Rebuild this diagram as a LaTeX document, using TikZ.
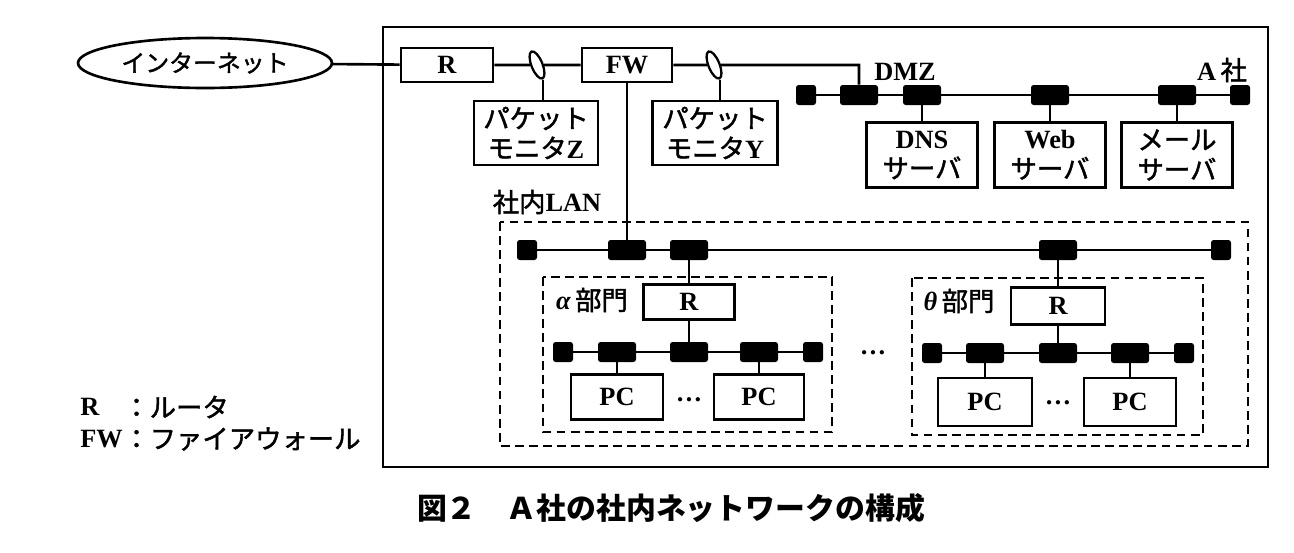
\documentclass[tikz,border=0pt]{standalone}
\usepackage{fontspec}
\setmainfont{Liberation Serif}
\newfontfamily\jpfont{Noto Sans CJK JP}
\newfontfamily\jpheavy{Noto Sans CJK JP}[FakeBold=1.6]
\newcommand\jtext[1]{{\jpheavy\mdseries #1}}
\usetikzlibrary{shapes.geometric}

\tikzset{
	box/.style={draw, line width=1.5pt, fill=white, align=center, inner sep=1pt,
		font=\fontsize{15}{17}\selectfont\bfseries},
	tap/.style={draw, ellipse, line width=1.3pt, fill=white, minimum width=0.22cm,
		minimum height=0.58cm, inner sep=0pt, rotate=22},
	blk/.style={fill=black, rounded corners=1.5pt, minimum width=0.76cm,
		minimum height=0.4cm, inner sep=0pt},
	term/.style={fill=black, rounded corners=1.5pt, minimum size=0.4cm, inner sep=0pt},
	grp/.style={draw, dash pattern=on 5pt off 3pt, line width=1.4pt},
	lbl/.style={inner sep=0pt, font=\fontsize{15}{17}\selectfont\bfseries},
	wire/.style={line width=1.5pt},
}

\begin{document}
\begin{tikzpicture}[x=0.02cm, y=-0.02cm]
	\useasboundingbox (0,0) rectangle (1294,552);

	% A社
	\draw[line width=1.5pt] (383,27) rectangle (1268,467);
	\node[lbl] (corp) at (1222,70) {A\,\jtext{社}};

	\node[draw, ellipse, line width=1.5pt, minimum width=5.08cm, minimum height=1.0cm,
		inner sep=0pt, font=\fontsize{13.6}{16}\selectfont] (inet) at (205,63) {\jtext{インターネット}};
	\node[box, minimum width=1.84cm, minimum height=0.68cm] (rtr) at (447,65) {R};
	\node[box, minimum width=1.8cm, minimum height=0.68cm] (fw) at (627,65) {FW};

	\node[tap] (tapZ) at (537,65) {};
	\node[tap] (tapY) at (714,65) {};
	\node[box, minimum width=2.48cm, minimum height=1.28cm] (monZ) at (536,133)
		{\jtext{パケット}\\\jtext{モニタ}Z};
	\node[box, minimum width=2.5cm, minimum height=1.28cm] (monY) at (715,133)
		{\jtext{パケット}\\\jtext{モニタ}Y};

	\draw[wire] (inet) -- (rtr);
	\draw[wire] (rtr) -- (tapZ) -- (fw);
	\draw[wire] (tapZ.south) -- (tapZ.south |- monZ.north);
	\draw[wire] (tapY.south) -- (tapY.south |- monY.north);

	% DMZ
	\node[lbl] (dmz) at (905,72) {DMZ};
	\node[term] (dmzL) at (806,95) {};
	\node[blk] (dmzA) at (859,95) {};
	\node[blk] (dmzB) at (922,95) {};
	\node[blk] (dmzC) at (1050,95) {};
	\node[blk] (dmzD) at (1177,95) {};
	\node[term] (dmzR) at (1240,95) {};

	\node[box, minimum width=2.22cm, minimum height=1.3cm] (dns) at (922,155) {DNS\\\jtext{サーバ}};
	\node[box, minimum width=2.22cm, minimum height=1.3cm] (web) at (1050,155) {Web\\\jtext{サーバ}};
	\node[box, minimum width=2.22cm, minimum height=1.3cm] (mail) at (1177,155) {\jtext{メール}\\\jtext{サーバ}};

	\draw[wire] (fw) -- (tapY) -| (dmzA);
	\draw[wire] (dmzL) -- (dmzA) -- (dmzB) -- (dmzC) -- (dmzD) -- (dmzR);
	\draw[wire] (dmzB) -- (dns);
	\draw[wire] (dmzC) -- (web);
	\draw[wire] (dmzD) -- (mail);

	% 社内LAN
	\draw[grp] (500,222) rectangle (1248,446);
	\node[lbl] (lan) at (547,202) {\jtext{社内}LAN};
	\node[term] (lanL) at (527,250) {};
	\node[blk] (lanFW) at (627,250) {};
	\node[blk] (lanA) at (689,250) {};
	\node[blk] (lanT) at (1058,250) {};
	\node[term] (lanR) at (1221,250) {};

	\draw[wire] (fw) -- (lanFW);
	\draw[wire] (lanL) -- (lanFW) -- (lanA) -- (lanT) -- (lanR);

	% alpha
	\draw[grp] (543,277) rectangle (832,432);
	\node[lbl] (alpha) at (592,300) {\itshape α\,\jtext{部門}};
	\node[box, minimum width=1.82cm, minimum height=0.7cm] (rA) at (689,302) {R};
	\node[term] (aL) at (563,352) {};
	\node[blk] (a1) at (617,352) {};
	\node[blk] (a2) at (689,352) {};
	\node[blk] (a3) at (759,352) {};
	\node[term] (aR) at (813,352) {};
	\node[box, minimum width=1.84cm, minimum height=0.9cm] (pcA1) at (617,397) {PC};
	\node[box, minimum width=1.8cm, minimum height=0.9cm] (pcA2) at (759,397) {PC};
	\node[lbl] (dotsA) at (689,400) {…};

	\draw[wire] (lanA) -- (rA);
	\draw[wire] (rA) -- (a2);
	\draw[wire] (aL) -- (a1) -- (a2) -- (a3) -- (aR);
	\draw[wire] (a1) -- (pcA1);
	\draw[wire] (a3) -- (pcA2);

	\node[lbl] (dotsM) at (873,353) {…};

	% theta
	\draw[grp] (912,278) rectangle (1203,435);
	\node[lbl] (theta) at (959,301) {\itshape θ\,\jtext{部門}};
	\node[box, minimum width=1.88cm, minimum height=0.74cm] (rT) at (1058,306) {R};
	\node[term] (tL) at (932,353) {};
	\node[blk] (t1) at (985,353) {};
	\node[blk] (t2) at (1058,353) {};
	\node[blk] (t3) at (1130,353) {};
	\node[term] (tR) at (1184,353) {};
	\node[box, minimum width=1.88cm, minimum height=0.96cm] (pcT1) at (985,402) {PC};
	\node[box, minimum width=1.84cm, minimum height=0.96cm] (pcT2) at (1130,402) {PC};
	\node[lbl] (dotsT) at (1058,403) {…};

	\draw[wire] (lanT) -- (rT);
	\draw[wire] (rT) -- (t2);
	\draw[wire] (tL) -- (t1) -- (t2) -- (t3) -- (tR);
	\draw[wire] (t1) -- (pcT1);
	\draw[wire] (t3) -- (pcT2);

	% legend
	\node[lbl, anchor=west] (legR) at (80,407) {R};
	\node[lbl, anchor=west] (legRt) at (123,407) {\jtext{：ルータ}};
	\node[lbl, anchor=west] (legF) at (80,439) {FW};
	\node[lbl, anchor=west] (legFt) at (123,439) {\jtext{：ファイアウォール}};

	\node[font=\jpfont\bfseries\fontsize{17}{20}\selectfont] (cap) at (671,508)
		{図２　Ａ社の社内ネットワークの構成};
\end{tikzpicture}
\end{document}
